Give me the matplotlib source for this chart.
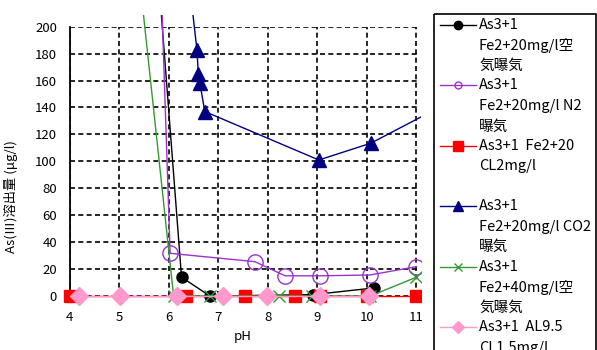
import matplotlib
matplotlib.use('Agg')
import matplotlib.pyplot as plt
from matplotlib.patches import Rectangle

plt.rcParams['font.family'] = ['Noto Sans CJK JP', 'DejaVu Sans']

# data (pH, As(III) ug/l)
ph_air20 = [5.6, 6.26, 6.83, 8.91, 10.15]
as_air20 = [330, 14, 0, 1, 6]
ph_n2 = [5.75, 6.03, 7.74, 8.35, 9.05, 10.06, 11.0]
as_n2 = [340, 31.7, 25.5, 15, 15, 15.6, 21.8]
ph_cl2 = [4.0, 6.35, 7.55, 8.55, 9.05, 10.0, 11.0]
as_cl2 = [0, 0, 0, 0, 0, 0, 0]
ph_co2 = [6.45, 6.57, 6.6, 6.63, 6.73, 9.03, 10.08, 11.3]
as_co2 = [222, 183, 165, 158, 137, 101, 113.5, 137]
ph_air40 = [5.3, 6.1, 6.83, 8.23, 8.9, 10.07, 11.0]
as_air40 = [275, 0, 0, 0, 0, 0, 14]
ph_al = [4.2, 5.02, 6.16, 7.1, 7.98, 9.05, 10.04]
as_al = [0, 0, 0, 0, 0, 0, 0]

labels = [
    ['As3+1', 'Fe2+20mg/l空', '気曝気'],
    ['As3+1', 'Fe2+20mg/l N2', '曝気'],
    ['As3+1  Fe2+20', 'CL2mg/l', ''],
    ['As3+1', 'Fe2+20mg/l CO2', '曝気'],
    ['As3+1', 'Fe2+40mg/l空', '気曝気'],
    ['As3+1  AL9.5', 'CL1.5mg/l', ''],
]
colors = ['#000000', '#9933CC', '#FF0000', '#000080', '#339933', '#FF99CC']
xticks = [4, 5, 6, 7, 8, 9, 10, 11]
yticks = [0, 20, 40, 60, 80, 100, 120, 140, 160, 180, 200]

fig = plt.figure(figsize=(5.97, 3.5), dpi=100)
W, H = 597, 350
ax = fig.add_axes([69.5 / W, 1 - 296 / H, (416.5 - 69.5) / W, (296 - 26.7) / H])
ax.set_xlim(4, 11)
ax.set_ylim(0, 200)
ax.set_xticks(xticks)
ax.set_yticks(yticks)
ax.grid(True, color='black', linestyle=(0, (3, 2)), linewidth=1.2)
ax.set_axisbelow(True)
for s in ['top', 'right', 'bottom']:
    ax.spines[s].set_visible(False)
ax.spines['left'].set_linewidth(1.3)
ax.tick_params(length=0, labelsize=9.5)
ax.tick_params(axis='y', pad=9)
ax.tick_params(axis='x', pad=11)
ax.set_xlabel('pH', fontsize=9.5, labelpad=4)
ax.set_ylabel('As(Ⅲ)溶出量 (μg/l)', fontsize=9.5)
ax.yaxis.set_label_coords(-0.148, 0.37)

series = [
    (ph_air20, as_air20, dict(marker='o', ms=8, mfc=colors[0], mec=colors[0])),
    (ph_n2, as_n2, dict(marker='o', ms=11, mfc='none', mec=colors[1])),
    (ph_cl2, as_cl2, dict(marker='s', ms=9, mfc=colors[2], mec=colors[2])),
    (ph_co2, as_co2, dict(marker='^', ms=10, mfc=colors[3], mec=colors[3])),
    (ph_air40, as_air40, dict(marker='x', ms=9, mec=colors[4], mew=1)),
    (ph_al, as_al, dict(marker='D', ms=9, mfc=colors[5], mec=colors[5])),
]
for i, (xs, ys, st) in enumerate(series):
    ln, = ax.plot(xs, ys, color=colors[i], lw=1, zorder=3 + i, **st)
    ln.set_clip_path(Rectangle((3.5, -20), 7.6, 229, transform=ax.transData))

# legend drawn by hand so the handle sits on the first text line
lax = fig.add_axes([0, 0, 1, 1])
lax.set_xlim(0, W)
lax.set_ylim(H, 0)
lax.axis('off')
lax.add_patch(Rectangle((434, 14), 162, 400, fill=False, ec='black', lw=1.2))
leg_markers = [
    dict(marker='o', ms=6, mfc=colors[0], mec=colors[0]),
    dict(marker='o', ms=5, mfc='none', mec=colors[1]),
    dict(marker='s', ms=7, mfc=colors[2], mec=colors[2]),
    dict(marker='^', ms=7, mfc=colors[3], mec=colors[3]),
    dict(marker='x', ms=6, mec=colors[4], mew=1),
    dict(marker='D', ms=6, mfc=colors[5], mec=colors[5]),
]
for i, lines in enumerate(labels):
    y0 = 25 + i * 60.4
    lax.plot([440, 476], [y0, y0], color=colors[i], lw=1)
    lax.plot([458], [y0], color=colors[i], **leg_markers[i])
    for j, t in enumerate(lines):
        lax.text(479, y0 + j * 20.6, t, fontsize=10.5, va='center', ha='left')

fig.savefig('out.png', dpi=100)
